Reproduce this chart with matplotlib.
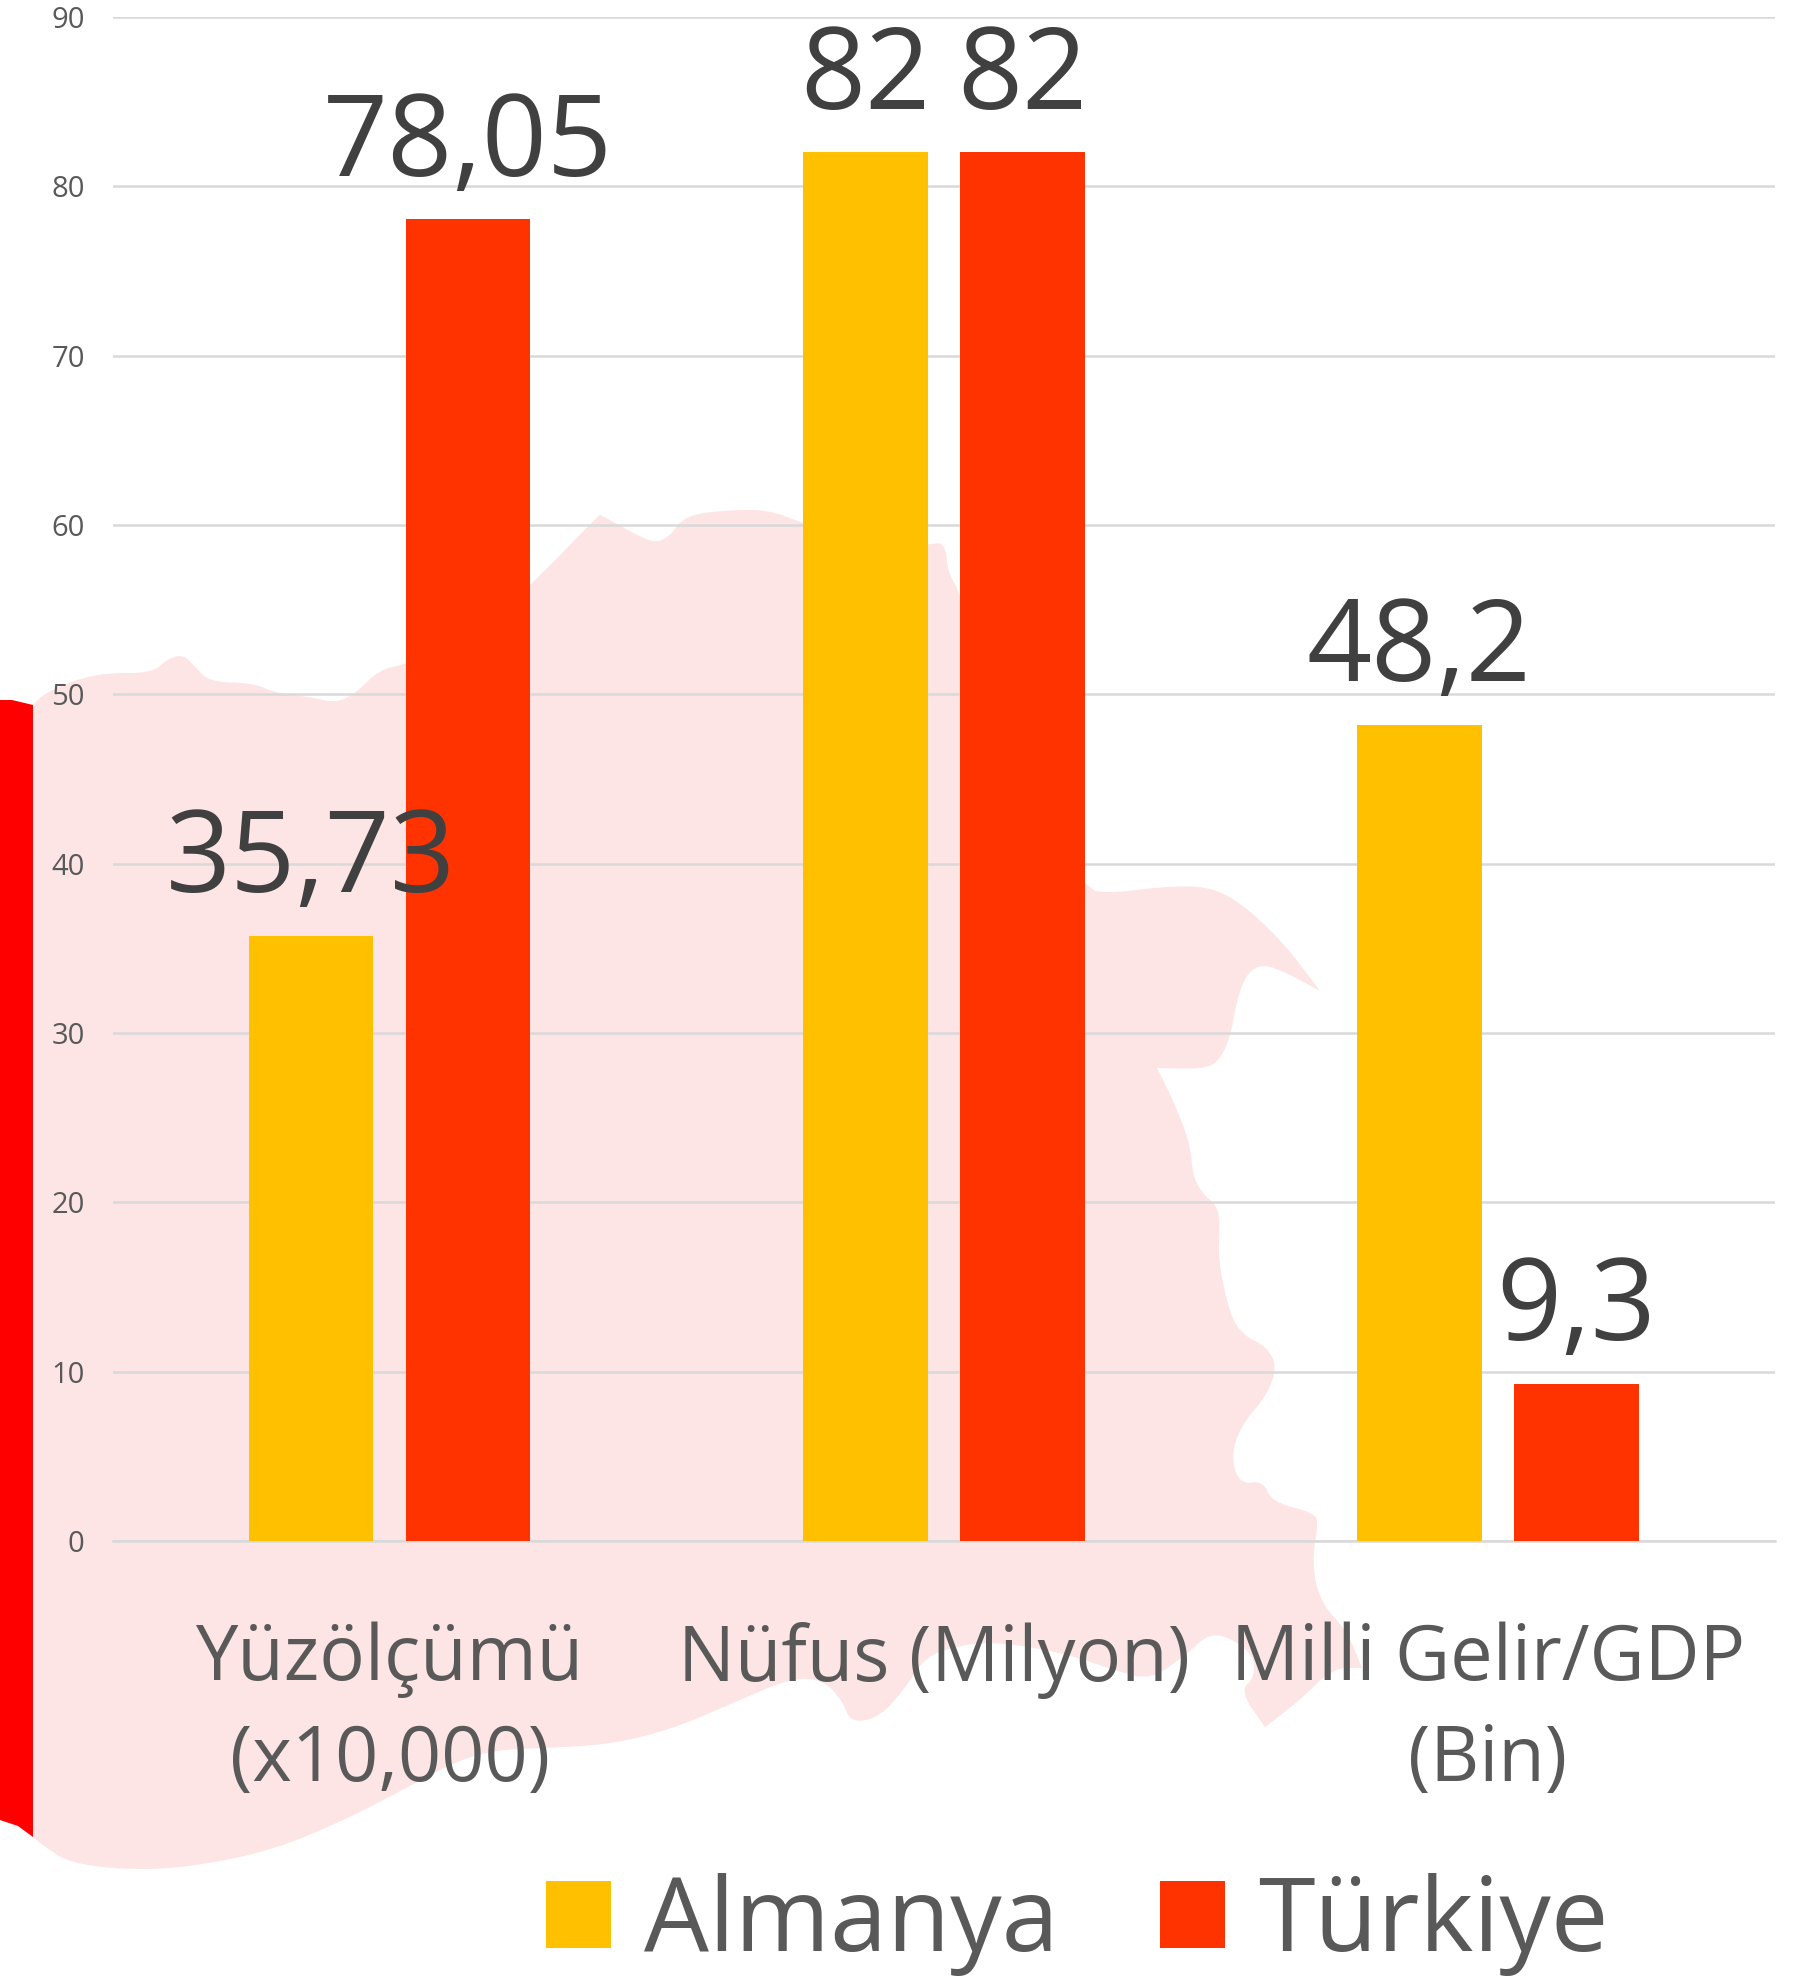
import numpy as np
import matplotlib
matplotlib.use("Agg")
import matplotlib.pyplot as plt
from matplotlib.patches import Polygon
from matplotlib.transforms import ScaledTranslation

categories = ["Yüzölçümü\n(x10,000)", "Nüfus (Milyon)", "Milli Gelir/GDP\n(Bin)"]
almanya = [35.73, 82, 48.2]
turkiye = [78.05, 82, 9.3]
almanya_labels = ["35,73", "82", "48,2"]
turkiye_labels = ["78,05", "82", "9,3"]
yticks = list(range(0, 100, 10))

W, H = 1814, 1977
YELLOW = "#FFC000"
ORANGE = "#FF3300"
PINK = "#FDE5E5"

# background map silhouette, in picture pixels
map_outline = [
    (20, 712), (33, 705), (45, 693), (75, 680), (106, 673), (152, 673), (169, 658), (184, 655), (195, 667),
    (210, 682), (253, 683), (276, 693), (310, 697), (336, 703), (356, 693), (379, 670), (406, 664),
    (470, 640), (531, 585), (599, 515), (601, 515), (631, 532), (654, 543), (669, 537), (686, 515), (729, 510),
    (769, 510), (802, 523), (880, 545), (926, 545), (945, 542), (948, 573), (960, 592), (1020, 790),
    (1085, 890), (1113, 893), (1160, 887), (1207, 886), (1240, 902), (1283, 942), (1320, 991),
    (1320, 991), (1287, 973), (1263, 964), (1247, 973), (1237, 999), (1230, 1039), (1217, 1064),
    (1197, 1069), (1157, 1068), (1157, 1068), (1173, 1100), (1190, 1143), (1193, 1177), (1203, 1194),
    (1217, 1206), (1220, 1223), (1218, 1260), (1230, 1315), (1243, 1335), (1267, 1347), (1277, 1367),
    (1267, 1395), (1240, 1427), (1231, 1458), (1240, 1484), (1263, 1481), (1272, 1502), (1315, 1513),
    (1318, 1525), (1312, 1562), (1320, 1602), (1347, 1631), (1362, 1668), (1362, 1668), (1333, 1668),
    (1300, 1700), (1265, 1727), (1265, 1727), (1240, 1691), (1255, 1677), (1253, 1654), (1227, 1636),
    (1207, 1635), (1187, 1654), (1150, 1680), (1117, 1671), (1067, 1654), (1000, 1642), (960, 1645),
    (925, 1657), (906, 1687), (880, 1717), (851, 1723), (842, 1700), (823, 1680), (791, 1678),
    (733, 1703), (670, 1730), (606, 1745), (542, 1748), (497, 1750), (459, 1760), (408, 1787), (351, 1817),
    (274, 1850), (191, 1867), (128, 1870), (70, 1863), (45, 1847), (33, 1837), (20, 1826),
]
strip_outline = [(0, 700), (12, 700), (33, 705), (33, 1837), (18, 1826), (0, 1820)]


def smooth(points, rounds=2):
    pts = np.array(points, dtype=float)
    for _ in range(rounds):
        nxt = np.roll(pts, -1, axis=0)
        pts = np.column_stack([0.75 * pts + 0.25 * nxt, 0.25 * pts + 0.75 * nxt]).reshape(-1, 2)
    return pts


def to_fig(pts):
    pts = np.array(pts, dtype=float)
    return np.column_stack([pts[:, 0] / W, 1 - pts[:, 1] / H])


plt.rcParams["font.family"] = ["Open Sans", "DejaVu Sans"]

fig = plt.figure(figsize=(W / 100, H / 100), dpi=100)
fig.patch.set_facecolor("white")
fig.add_artist(Polygon(to_fig(smooth(map_outline)), closed=True, transform=fig.transFigure,
                       facecolor=PINK, edgecolor="none", zorder=-2))
fig.add_artist(Polygon(to_fig(strip_outline), closed=True, transform=fig.transFigure,
                       facecolor="#FF0000", edgecolor="none", zorder=-1))

ax = fig.add_axes([112.5 / W, 1 - 1541 / H, (1775 - 112.5) / W, (1541 - 17) / H])
ax.patch.set_alpha(0)

x = np.arange(len(categories))
bar_w = 0.225
step = 0.2835
bars_a = ax.bar(x - step / 2, almanya, bar_w, color=YELLOW, label="Almanya", zorder=3)
bars_t = ax.bar(x + step / 2, turkiye, bar_w, color=ORANGE, label="Türkiye", zorder=3)
ax.bar_label(bars_a, labels=almanya_labels, fontsize=82, color="#404040", padding=12, zorder=5)
ax.bar_label(bars_t, labels=turkiye_labels, fontsize=82, color="#404040", padding=12, zorder=5)

ax.set_xlim(-0.5, 2.5)
ax.set_ylim(0, 90)
ax.set_yticks(yticks)
ax.grid(axis="y", color="#D9D9D9", linewidth=1.8, zorder=1)
ax.set_axisbelow(True)
for side in ["top", "right", "left"]:
    ax.spines[side].set_visible(False)
ax.spines["bottom"].set_color("#D9D9D9")
ax.spines["bottom"].set_linewidth(1.8)
ax.tick_params(axis="y", length=0, labelsize=21, labelcolor="#595959", pad=20)
ax.tick_params(axis="x", length=0, labelsize=54.5, labelcolor="#595959", pad=58)
ax.set_xticks(x)
ax.set_xticklabels(categories, linespacing=1.41)

# the two right hand labels sit a little left of their groups
for lab, dx in zip(ax.get_xticklabels(), [0, -10, -10]):
    lab.set_transform(lab.get_transform() + ScaledTranslation(dx / 100, 0, fig.dpi_scale_trans))

fig.legend(handles=[bars_a, bars_t], loc="center", bbox_to_anchor=(1077 / W, 1 - 1924 / H),
           ncol=2, frameon=False, fontsize=74, labelcolor="#595959",
           handlelength=0.63, handleheight=0.63, handletextpad=0.32, columnspacing=0.99)

fig.savefig("out.png", dpi=100)
